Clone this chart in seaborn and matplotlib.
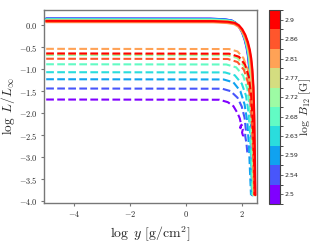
import matplotlib
matplotlib.use('Agg')
import matplotlib.pyplot as plt
from matplotlib.colors import ListedColormap, BoundaryNorm
from matplotlib.cm import ScalarMappable
from matplotlib.ticker import FuncFormatter
import numpy as np
import seaborn as sns

# log B12 of each model (colour index)
log_B = [2.5, 2.544, 2.589, 2.633, 2.678, 2.722, 2.767, 2.811, 2.856, 2.9]
cbar_labels = ['2.5', '2.54', '2.59', '2.63', '2.68', '2.72', '2.77', '2.81', '2.86', '2.9']

# solid curves, one per B
solid_x = [
	[-5.0, 0.88, 1.38, 1.63, 1.78, 1.90, 2.01, 2.10, 2.17, 2.22, 2.26, 2.30, 2.33, 2.35, 2.37],
	[-5.0, 0.89, 1.39, 1.64, 1.79, 1.91, 2.02, 2.11, 2.18, 2.23, 2.27, 2.31, 2.34, 2.36, 2.38],
	[-5.0, 0.90, 1.40, 1.65, 1.80, 1.92, 2.03, 2.12, 2.19, 2.24, 2.28, 2.32, 2.35, 2.37, 2.39],
	[-5.0, 0.91, 1.41, 1.66, 1.81, 1.93, 2.04, 2.13, 2.20, 2.25, 2.29, 2.33, 2.36, 2.38, 2.40],
	[-5.0, 0.92, 1.42, 1.67, 1.82, 1.94, 2.05, 2.14, 2.21, 2.26, 2.30, 2.34, 2.37, 2.39, 2.41],
	[-5.0, 0.94, 1.44, 1.69, 1.84, 1.96, 2.07, 2.16, 2.23, 2.28, 2.32, 2.36, 2.39, 2.41, 2.43],
	[-5.0, 0.95, 1.45, 1.70, 1.85, 1.97, 2.08, 2.17, 2.24, 2.29, 2.33, 2.37, 2.40, 2.42, 2.44],
	[-5.0, 0.97, 1.47, 1.72, 1.87, 1.99, 2.10, 2.19, 2.26, 2.31, 2.35, 2.39, 2.42, 2.44, 2.46],
	[-5.0, 0.99, 1.49, 1.74, 1.89, 2.01, 2.12, 2.21, 2.28, 2.33, 2.37, 2.41, 2.44, 2.46, 2.48],
	[-5.0, 1.00, 1.50, 1.75, 1.90, 2.02, 2.13, 2.22, 2.29, 2.34, 2.38, 2.42, 2.45, 2.47, 2.49],
]
solid_y = [
	[0.150, 0.145, 0.130, 0.105, 0.050, -0.040, -0.170, -0.330, -0.510, -0.700, -0.950, -1.350, -2.000, -2.850, -3.86],
	[0.148, 0.143, 0.128, 0.103, 0.048, -0.042, -0.172, -0.332, -0.512, -0.702, -0.952, -1.352, -2.002, -2.852, -3.86],
	[0.142, 0.137, 0.122, 0.097, 0.042, -0.048, -0.178, -0.338, -0.518, -0.708, -0.958, -1.358, -2.008, -2.858, -3.86],
	[0.130, 0.125, 0.110, 0.085, 0.030, -0.060, -0.190, -0.350, -0.530, -0.720, -0.970, -1.370, -2.020, -2.870, -3.86],
	[0.125, 0.120, 0.105, 0.080, 0.025, -0.065, -0.195, -0.355, -0.535, -0.725, -0.975, -1.375, -2.025, -2.875, -3.86],
	[0.115, 0.110, 0.095, 0.070, 0.015, -0.075, -0.205, -0.365, -0.545, -0.735, -0.985, -1.385, -2.035, -2.885, -3.86],
	[0.105, 0.100, 0.085, 0.060, 0.005, -0.085, -0.215, -0.375, -0.555, -0.745, -0.995, -1.395, -2.045, -2.895, -3.86],
	[0.065, 0.060, 0.045, 0.020, -0.035, -0.125, -0.255, -0.415, -0.595, -0.785, -1.035, -1.435, -2.085, -2.935, -3.86],
	[0.080, 0.075, 0.060, 0.035, -0.020, -0.110, -0.240, -0.400, -0.580, -0.770, -1.020, -1.420, -2.070, -2.920, -3.86],
	[0.095, 0.090, 0.075, 0.050, -0.005, -0.095, -0.225, -0.385, -0.565, -0.755, -1.005, -1.405, -2.055, -2.905, -3.86],
]

# dashed curves, one per B
dashed_x = [
	[-5.0, 1.20, 1.50, 1.70, 1.85, 1.93, 1.97, 1.95, 1.99, 2.04, 2.01, 2.05, 2.03],
	[-5.0, 1.30, 1.60, 1.85, 2.00, 2.10, 2.15, 2.12, 2.17, 2.20],
	[-5.0, 1.35, 1.70, 1.95, 2.10, 2.20, 2.26, 2.30, 2.33],
	[-5.0, 1.40, 1.75, 2.00, 2.15, 2.25, 2.30, 2.34, 2.36],
	[-5.0, 1.45, 1.80, 2.05, 2.20, 2.28, 2.33, 2.37, 2.39],
	[-5.0, 1.50, 1.85, 2.08, 2.22, 2.30, 2.36, 2.40, 2.42],
	[-5.0, 1.50, 1.85, 2.09, 2.23, 2.31, 2.37, 2.41, 2.43],
	[-5.0, 1.55, 1.85, 2.06, 2.22, 2.31, 2.37, 2.41, 2.44],
	[-5.0, 1.50, 1.85, 2.08, 2.22, 2.31, 2.37, 2.42, 2.45],
	[-5.0, 1.55, 1.90, 2.12, 2.25, 2.33, 2.39, 2.44, 2.46],
]
dashed_y = [
	[-1.690, -1.695, -1.75, -1.84, -2.00, -2.12, -2.24, -2.34, -2.26, -2.36, -2.44, -2.52, -2.60],
	[-1.440, -1.445, -1.50, -1.65, -1.85, -2.10, -2.40, -2.50, -2.70, -2.90],
	[-1.230, -1.235, -1.30, -1.50, -1.80, -2.20, -2.80, -3.40, -3.86],
	[-1.070, -1.075, -1.14, -1.33, -1.60, -2.00, -2.50, -3.20, -3.86],
	[-0.890, -0.895, -0.96, -1.15, -1.45, -1.85, -2.40, -3.10, -3.86],
	[-0.680, -0.685, -0.75, -0.93, -1.20, -1.60, -2.20, -3.00, -3.86],
	[-0.655, -0.660, -0.72, -0.90, -1.17, -1.57, -2.17, -2.97, -3.86],
	[-0.540, -0.545, -0.60, -0.75, -1.02, -1.40, -2.00, -2.80, -3.86],
	[-0.765, -0.770, -0.84, -1.02, -1.30, -1.70, -2.30, -3.10, -3.86],
	[-0.645, -0.650, -0.72, -0.90, -1.17, -1.55, -2.15, -3.00, -3.86],
]

x_ticks = [-4, -2, 0, 2]
y_ticks = [0.0, -0.5, -1.0, -1.5, -2.0, -2.5, -3.0, -3.5, -4.0]


def main():
	sns.set_style('ticks')
	plt.rcParams['mathtext.fontset'] = 'cm'
	plt.rcParams['font.family'] = ['DejaVu Sans']

	fig = plt.figure(figsize=(3.14, 2.45), dpi=100)
	ax = fig.add_axes([0.140, 0.171, 0.678, 0.788])
	cax = fig.add_axes([0.857, 0.167, 0.035, 0.792])

	# full rainbow map, endpoints included (purple -> red)
	colors = [tuple(c) for c in matplotlib.colormaps['rainbow'](np.linspace(0, 1, len(log_B)))]

	for i in range(len(log_B)):
		sns.lineplot(x=solid_x[i], y=solid_y[i], color=colors[i], lw=1.5,
			sort=False, estimator=None, ax=ax)
		sns.lineplot(x=dashed_x[i], y=dashed_y[i], color=colors[i], lw=1.5,
			linestyle='--', sort=False, estimator=None, ax=ax)

	ax.set_xlim(-5.08, 2.54)
	ax.set_ylim(-4.04, 0.34)
	ax.set_xticks(x_ticks)
	ax.set_yticks(y_ticks)
	ax.xaxis.set_major_formatter(FuncFormatter(lambda v, p: r'$%d$' % v))
	ax.yaxis.set_major_formatter(FuncFormatter(lambda v, p: r'$%.1f$' % v))
	ax.tick_params(labelsize=6, length=2.5, width=0.8, color='#777777', pad=2)
	for s in ax.spines.values():
		s.set_color('#777777')
		s.set_linewidth(1.0)

	ax.set_xlabel(r'$\log\ y\ [\mathrm{g/cm^2}]$', fontsize=10, labelpad=4)
	ax.set_ylabel(r'$\log\ L/L_{\infty}$', fontsize=9.5, labelpad=1)

	# discrete colorbar
	step = (log_B[-1] - log_B[0]) / (len(log_B) - 1)
	bounds = [log_B[0] - step / 2] + [b + step / 2 for b in log_B]
	cmap = ListedColormap(colors)
	norm = BoundaryNorm(bounds, cmap.N)
	sm = ScalarMappable(norm=norm, cmap=cmap)
	cb = fig.colorbar(sm, cax=cax, ticks=log_B)
	cb.ax.set_yticklabels(cbar_labels)
	cb.ax.tick_params(labelsize=4.5, length=2, width=0.5, pad=1.5)
	cb.outline.set_edgecolor('#444444')
	cb.outline.set_linewidth(0.8)
	cb.set_label(r'$\log\ B_{12}\ [\mathrm{G}]$', fontsize=8.5, labelpad=-1)

	fig.savefig('out.png', dpi=100)


if __name__ == "__main__":
	main()
